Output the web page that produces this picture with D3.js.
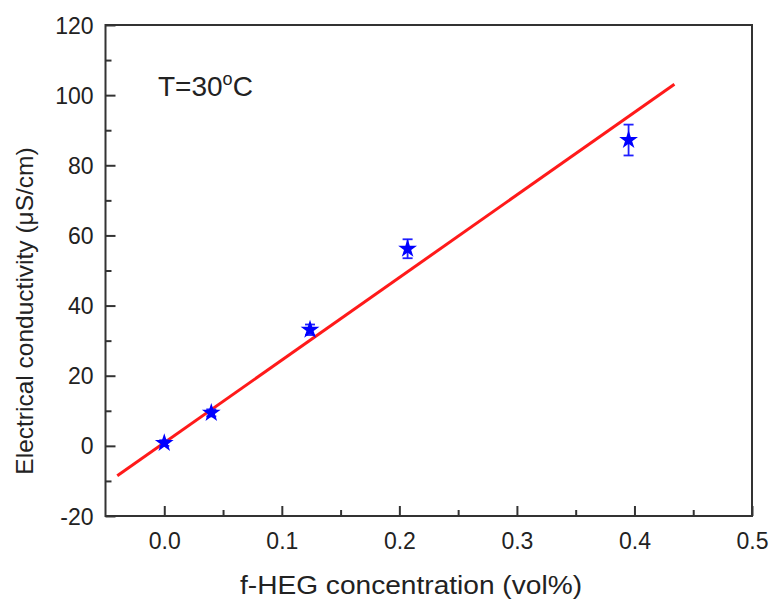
<!DOCTYPE html>
<html><head><meta charset="utf-8">
<script src="https://cdn.jsdelivr.net/npm/d3@7"></script>
<style>body{margin:0;background:#fff}svg{display:block}text{font-family:"Liberation Sans",Arial,sans-serif}</style>
</head><body>
<svg id="c" width="770" height="602"></svg>
<script>
const concentration = [0.0, 0.040, 0.124, 0.207, 0.395];
const conductivity = [0.8, 9.4, 33.1, 56.2, 87.2];
const errors = [0.8, 1.0, 1.5, 2.7, 4.4];
const fitX = [-0.040, 0.434];
const fitSlope = 235.5, fitIntercept = 0.9;
const xTicks = [0.0, 0.1, 0.2, 0.3, 0.4, 0.5];
const xMinor = [0.05, 0.15, 0.25, 0.35, 0.45];
const yTicks = [-20, 0, 20, 40, 60, 80, 100, 120];
const yMinor = [-10, 10, 30, 50, 70, 90, 110];

const svg = d3.select("#c");
const L = 105.5, R = 752, T = 25, B = 516;
const x = d3.scaleLinear().domain([-0.05, 0.5]).range([L, R]);
const y = d3.scaleLinear().domain([-20, 120]).range([B, T]);
const axisColor = "#333";
const font = '"Liberation Sans",Arial,sans-serif';

// frame
svg.append("rect").attr("x", L).attr("y", T).attr("width", R - L).attr("height", B - T)
  .attr("fill", "none").attr("stroke", axisColor).attr("stroke-width", 2);

// x axis
const gx = svg.append("g").attr("transform", `translate(0,${B})`)
  .call(d3.axisBottom(x).tickValues(xTicks).tickFormat(d3.format(".1f")).tickSizeInner(-10).tickSizeOuter(0).tickPadding(17));
const gxm = svg.append("g").attr("transform", `translate(0,${B})`)
  .call(d3.axisBottom(x).tickValues(xMinor).tickFormat("").tickSizeInner(-6).tickSizeOuter(0));
// y axis
const gy = svg.append("g").attr("transform", `translate(${L},0)`)
  .call(d3.axisLeft(y).tickValues(yTicks).tickFormat(d => String(d)).tickSizeInner(-10).tickSizeOuter(0).tickPadding(12));
const gym = svg.append("g").attr("transform", `translate(${L},0)`)
  .call(d3.axisLeft(y).tickValues(yMinor).tickFormat("").tickSizeInner(-6).tickSizeOuter(0));
[gx, gxm, gy, gym].forEach(g => {
  g.select(".domain").remove();
  g.selectAll("line").attr("stroke", axisColor).attr("stroke-width", 2);
  g.selectAll("text").attr("fill", "#222").style("font-size", "23px").style("font-family", font);
});
gy.selectAll("text").attr("dy", "0.35em");

// fit line
svg.append("line")
  .attr("x1", x(fitX[0])).attr("y1", y(fitIntercept + fitSlope * fitX[0]))
  .attr("x2", x(fitX[1])).attr("y2", y(fitIntercept + fitSlope * fitX[1]))
  .attr("stroke", "#ff1a1a").attr("stroke-width", 3);

// error bars
const data = concentration.map((c, i) => ({ c, v: conductivity[i], e: errors[i] }));
const eb = svg.append("g").attr("stroke", "#2020ff").attr("stroke-width", 1.8);
data.forEach(d => {
  const cx = x(d.c);
  eb.append("line").attr("x1", cx).attr("x2", cx).attr("y1", y(d.v - d.e)).attr("y2", y(d.v + d.e));
  [d.v - d.e, d.v + d.e].forEach(v => eb.append("line").attr("x1", cx - 5).attr("x2", cx + 5).attr("y1", y(v)).attr("y2", y(v)));
});

// stars
svg.append("g").selectAll("path").data(data).join("path")
  .attr("d", d3.symbol(d3.symbolStar, 110))
  .attr("transform", d => `translate(${x(d.c)},${y(d.v)})`)
  .attr("fill", "#0000ff");

// annotation
const ann = svg.append("text").attr("x", 158).attr("y", 96).attr("fill", "#222").style("font-size", "28px");
ann.append("tspan").text("T=30");
ann.append("tspan").attr("dy", -11).style("font-size", "18px").text("o");
ann.append("tspan").attr("dy", 11).text("C");

// axis titles
svg.append("text").attr("x", 240).attr("y", 594)
  .attr("textLength", 342).attr("lengthAdjust", "spacingAndGlyphs")
  .attr("fill", "#222").style("font-size", "26px").text("f-HEG concentration (vol%)");
svg.append("text").attr("transform", `translate(33,311) rotate(-90)`).attr("text-anchor", "middle")
  .attr("fill", "#222").style("font-size", "24.5px").text("Electrical conductivity (μS/cm)");
</script>
</body></html>
